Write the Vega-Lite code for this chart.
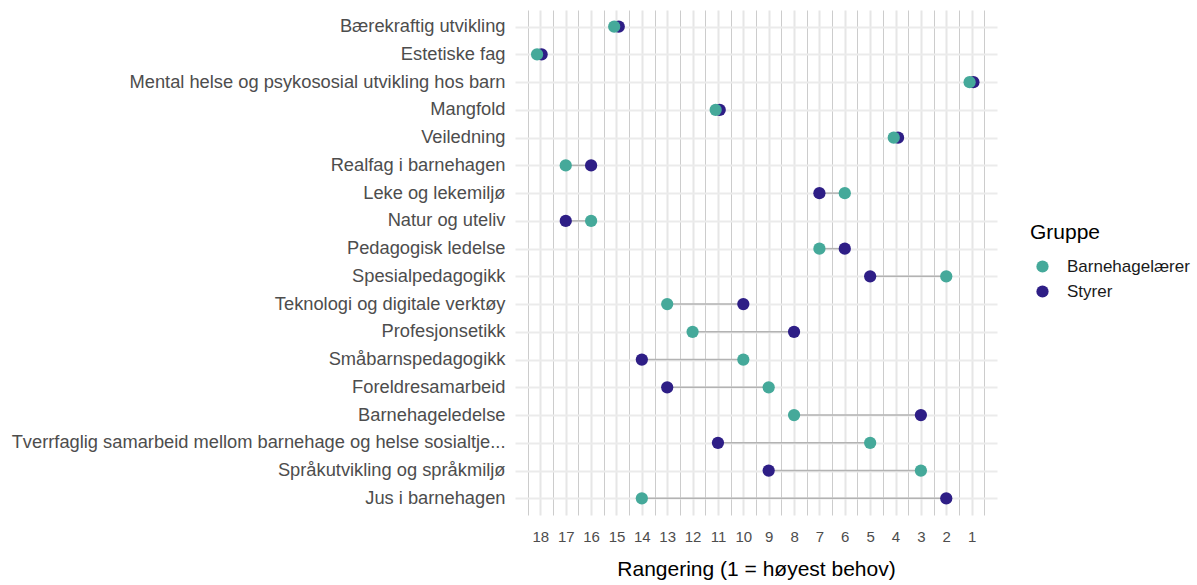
{
  "$schema": "https://vega.github.io/schema/vega-lite/v6.json",
  "autosize": "none",
  "width": 482,
  "height": 505,
  "padding": {"left": 515, "top": 10, "right": 200, "bottom": 70},
  "background": "white",
  "config": {
    "font": "Liberation Sans",
    "view": {"stroke": null}
  },
  "data": {
    "values": [
      {"tema": "Bærekraftig utvikling", "gruppe": "Styrer", "rang": 14.91},
      {"tema": "Estetiske fag", "gruppe": "Styrer", "rang": 17.95},
      {"tema": "Mental helse og psykososial utvikling hos barn", "gruppe": "Styrer", "rang": 0.93},
      {"tema": "Mangfold", "gruppe": "Styrer", "rang": 10.93},
      {"tema": "Veiledning", "gruppe": "Styrer", "rang": 3.9},
      {"tema": "Realfag i barnehagen", "gruppe": "Styrer", "rang": 16},
      {"tema": "Leke og lekemiljø", "gruppe": "Styrer", "rang": 7},
      {"tema": "Natur og uteliv", "gruppe": "Styrer", "rang": 17},
      {"tema": "Pedagogisk ledelse", "gruppe": "Styrer", "rang": 6},
      {"tema": "Spesialpedagogikk", "gruppe": "Styrer", "rang": 5},
      {"tema": "Teknologi og digitale verktøy", "gruppe": "Styrer", "rang": 10},
      {"tema": "Profesjonsetikk", "gruppe": "Styrer", "rang": 8},
      {"tema": "Småbarnspedagogikk", "gruppe": "Styrer", "rang": 14},
      {"tema": "Foreldresamarbeid", "gruppe": "Styrer", "rang": 13},
      {"tema": "Barnehageledelse", "gruppe": "Styrer", "rang": 3},
      {"tema": "Tverrfaglig samarbeid mellom barnehage og helse sosialtje...", "gruppe": "Styrer", "rang": 11},
      {"tema": "Språkutvikling og språkmiljø", "gruppe": "Styrer", "rang": 9},
      {"tema": "Jus i barnehagen", "gruppe": "Styrer", "rang": 2},
      {"tema": "Bærekraftig utvikling", "gruppe": "Barnehagelærer", "rang": 15.09},
      {"tema": "Estetiske fag", "gruppe": "Barnehagelærer", "rang": 18.13},
      {"tema": "Mental helse og psykososial utvikling hos barn", "gruppe": "Barnehagelærer", "rang": 1.08},
      {"tema": "Mangfold", "gruppe": "Barnehagelærer", "rang": 11.09},
      {"tema": "Veiledning", "gruppe": "Barnehagelærer", "rang": 4.07},
      {"tema": "Realfag i barnehagen", "gruppe": "Barnehagelærer", "rang": 17},
      {"tema": "Leke og lekemiljø", "gruppe": "Barnehagelærer", "rang": 6},
      {"tema": "Natur og uteliv", "gruppe": "Barnehagelærer", "rang": 16},
      {"tema": "Pedagogisk ledelse", "gruppe": "Barnehagelærer", "rang": 7},
      {"tema": "Spesialpedagogikk", "gruppe": "Barnehagelærer", "rang": 2},
      {"tema": "Teknologi og digitale verktøy", "gruppe": "Barnehagelærer", "rang": 13},
      {"tema": "Profesjonsetikk", "gruppe": "Barnehagelærer", "rang": 12},
      {"tema": "Småbarnspedagogikk", "gruppe": "Barnehagelærer", "rang": 10},
      {"tema": "Foreldresamarbeid", "gruppe": "Barnehagelærer", "rang": 9},
      {"tema": "Barnehageledelse", "gruppe": "Barnehagelærer", "rang": 8},
      {"tema": "Tverrfaglig samarbeid mellom barnehage og helse sosialtje...", "gruppe": "Barnehagelærer", "rang": 5},
      {"tema": "Språkutvikling og språkmiljø", "gruppe": "Barnehagelærer", "rang": 3},
      {"tema": "Jus i barnehagen", "gruppe": "Barnehagelærer", "rang": 14}
    ]
  },
  "encoding": {
    "y": {
      "field": "tema", "type": "nominal",
      "sort": ["Bærekraftig utvikling", "Estetiske fag", "Mental helse og psykososial utvikling hos barn", "Mangfold", "Veiledning", "Realfag i barnehagen", "Leke og lekemiljø", "Natur og uteliv", "Pedagogisk ledelse", "Spesialpedagogikk", "Teknologi og digitale verktøy", "Profesjonsetikk", "Småbarnspedagogikk", "Foreldresamarbeid", "Barnehageledelse", "Tverrfaglig samarbeid mellom barnehage og helse sosialtje...", "Språkutvikling og språkmiljø", "Jus i barnehagen"],
      "scale": {"type": "point", "padding": 0.6},
      "axis": {
        "title": null,
        "domain": false,
        "ticks": false,
        "grid": true,
        "gridColor": "#ebebeb",
        "gridWidth": 2,
        "labelFont": "Liberation Sans",
        "labelFontSize": 18.3,
        "labelColor": "#4d4d4d",
        "labelPadding": 10,
        "labelLimit": 600
      }
    }
  },
  "layer": [
    {
      "mark": {"type": "tick", "opacity": 0},
      "encoding": {
        "x": {
          "field": "rang", "type": "quantitative",
          "scale": {"domain": [0, 19], "reverse": true, "nice": false, "zero": false},
          "axis": {
            "orient": "top",
            "title": null,
            "values": [0.5, 1.5, 2.5, 3.5, 4.5, 5.5, 6.5, 7.5, 8.5, 9.5, 10.5, 11.5, 12.5, 13.5, 14.5, 15.5, 16.5, 17.5, 18.5],
            "labels": false,
            "domain": false,
            "ticks": false,
            "grid": true,
            "gridColor": "#cccccc",
            "gridWidth": 1
          }
        }
      }
    },
    {
      "mark": {"type": "rule", "color": "#b3b3b3", "strokeWidth": 1.5},
      "encoding": {
        "x": {
          "aggregate": "min", "field": "rang", "type": "quantitative",
          "scale": {"domain": [0, 19], "reverse": true, "nice": false, "zero": false},
          "axis": null
        },
        "x2": {"aggregate": "max", "field": "rang"}
      }
    },
    {
      "mark": {"type": "circle", "size": 150, "opacity": 1},
      "encoding": {
        "x": {
          "field": "rang", "type": "quantitative",
          "scale": {"domain": [0, 19], "reverse": true, "nice": false, "zero": false},
          "axis": {
            "orient": "bottom",
            "title": "Rangering (1 = høyest behov)",
            "titleFont": "Liberation Sans",
            "titleFontSize": 21,
            "titleFontWeight": "normal",
            "titleColor": "#000000",
            "titlePadding": 14,
            "values": [1, 2, 3, 4, 5, 6, 7, 8, 9, 10, 11, 12, 13, 14, 15, 16, 17, 18],
            "format": "d",
            "domain": false,
            "ticks": false,
            "grid": true,
            "gridColor": "#e6e6e6",
            "gridWidth": 2,
            "labelFont": "Liberation Sans",
            "labelFontSize": 15,
            "labelColor": "#4d4d4d",
            "labelPadding": 14,
            "labelOverlap": false
          }
        },
        "color": {
          "field": "gruppe", "type": "nominal",
          "scale": {"domain": ["Barnehagelærer", "Styrer"], "range": ["#45a99a", "#2e1e86"]},
          "legend": {
            "title": "Gruppe",
            "orient": "none",
            "legendX": 515,
            "legendY": 212,
            "titleFont": "Liberation Sans",
            "titleFontSize": 21,
            "titleFontWeight": "normal",
            "titleColor": "#000000",
            "titlePadding": 15,
            "labelFont": "Liberation Sans",
            "labelFontSize": 17,
            "labelColor": "#1a1a1a",
            "labelOffset": 16,
            "symbolType": "circle",
            "symbolSize": 150,
            "symbolOffset": 4,
            "rowPadding": 7
          }
        }
      }
    }
  ],
  "resolve": {"scale": {"x": "independent"}, "axis": {"x": "independent"}}
}
